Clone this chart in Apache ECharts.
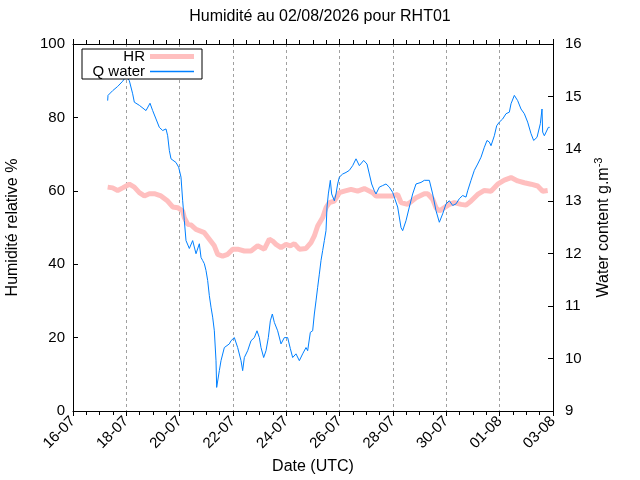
<!DOCTYPE html>
<html><head><meta charset="utf-8">
<script src="https://cdn.jsdelivr.net/npm/echarts@6/dist/echarts.min.js"></script>
<style>html,body{margin:0;padding:0;background:#fff}#c{width:640px;height:480px}</style>
</head><body><div id="c"></div>
<script>
const startUTC = Date.UTC(2026, 6, 16); // 16-07-2026 00:00 UTC
const axisSpanHours = 432;              // 16-07 -> 03-08
const tickStepHours = 48;
const hrHours = [31.2,35.7,40.2,44.7,50.7,55.2,59.7,64.2,68.7,73.2,79.2,85.2,89.7,94.2,98.7,100.2,103.2,106.2,110.7,118.2,122.7,127.2,130.2,134.7,139.2,143.7,148.2,154.2,160.2,166.2,172.2,176.7,179.7,182.7,187.2,191.7,195.6,199.2,203.7,209.7,214.2,217.2,220.2,224.7,227.7,230.7,235.2,239.7,244.2,250.2,256.2,262.2,269.7,272.7,280.2,287.7,292.2,295.2,301.2,308.7,316.2,319.2,323.7,326.7,329.7,334.2,338.7,343.2,349.2,353.7,358.2,364.2,370.2,376.2,382.2,388.2,394.2,400.2,406.2,412.2,418.2,422.7,427.2];
const hrValues = [61.0,60.8,60.1,60.8,61.8,61.0,59.5,58.6,59.2,59.2,58.6,57.2,55.6,55.4,54.5,52.7,50.9,50.7,49.5,48.6,46.8,45.0,42.7,42.2,42.7,44.1,44.1,43.6,43.6,45.0,44.1,46.8,46.3,45.4,44.5,45.4,45.0,45.6,44.1,44.3,45.9,47.7,50.4,52.7,55.4,56.8,57.2,59.5,59.9,60.4,59.9,60.6,59.5,58.6,58.6,58.6,59.0,56.8,56.3,58.1,59.2,59.2,57.7,55.4,54.5,55.4,56.3,56.8,56.3,56.1,57.2,59.0,60.1,59.9,61.8,62.9,63.6,62.7,62.2,61.8,61.3,59.9,60.1];
const qHours = [31.2,31.5,35.7,40.2,44.7,47.7,50.7,53.7,55.2,59.7,65.7,67.2,69.3,71.7,74.7,77.7,80.7,83.7,85.2,86.7,88.2,92.7,95.1,97.2,98.7,100.2,101.7,104.7,107.7,110.7,113.7,115.2,116.7,118.2,119.7,121.2,122.7,124.2,125.7,127.2,128.7,129.3,131.7,133.2,136.2,140.7,142.2,145.2,148.2,151.2,152.7,154.2,157.2,160.2,163.2,165.6,167.7,169.2,171.6,173.7,175.8,177.6,179.4,181.2,184.2,187.2,190.2,193.2,195.6,197.7,200.7,203.7,206.7,209.7,211.2,213.6,215.7,217.2,218.7,220.2,221.7,223.2,224.7,226.2,227.7,228.6,229.8,231.6,232.8,235.2,236.7,238.2,239.7,242.7,245.7,248.7,251.7,254.7,257.7,261.6,264.6,266.7,268.8,271.2,272.7,275.7,278.7,281.7,284.7,287.7,289.2,292.2,295.2,296.7,299.7,302.7,305.7,308.7,313.2,316.2,320.7,323.7,326.7,329.7,332.7,335.7,338.7,341.7,344.7,347.7,350.7,353.7,355.2,358.2,361.2,364.2,367.2,370.2,372.6,374.7,376.2,379.2,381.3,383.7,386.7,389.7,392.7,394.2,397.2,400.2,403.2,406.2,409.2,412.2,414.6,417.6,420.6,422.1,422.7,424.2,425.7,427.8,429.0];
const qValues = [14.92,15.02,15.11,15.19,15.29,15.38,15.30,15.05,14.89,14.83,14.73,14.70,14.87,14.73,14.57,14.41,14.35,14.38,14.25,13.97,13.81,13.74,13.65,13.46,13.01,12.63,12.25,12.10,12.25,12.00,12.19,11.93,11.87,11.81,11.68,11.49,11.20,10.98,10.79,10.53,9.96,9.45,9.77,9.96,10.21,10.28,10.34,10.40,10.21,9.96,9.77,10.02,10.15,10.34,10.40,10.53,10.40,10.21,10.02,10.15,10.40,10.72,10.85,10.69,10.53,10.28,10.40,10.40,10.19,10.02,10.09,9.96,10.09,10.21,10.15,10.50,10.53,10.85,11.10,11.36,11.61,11.87,12.06,12.25,12.44,12.89,13.14,13.40,13.14,13.01,13.14,13.33,13.46,13.52,13.55,13.59,13.68,13.81,13.68,13.78,13.71,13.52,13.33,13.20,13.14,13.27,13.30,13.33,13.27,13.17,13.14,12.89,12.50,12.44,12.63,12.89,13.14,13.33,13.36,13.40,13.40,13.14,12.82,12.60,12.76,12.95,13.01,12.92,12.95,13.05,13.11,13.08,13.20,13.40,13.59,13.71,13.84,14.03,14.16,14.13,14.06,14.25,14.44,14.51,14.57,14.67,14.70,14.86,15.02,14.92,14.76,14.67,14.51,14.29,14.16,14.22,14.48,14.76,14.32,14.25,14.22,14.41,14.41];

const HR_COLOR = '#ffbfbf';
const Q_COLOR = '#0080ff';
const FONT = '"Liberation Sans", Arial, sans-serif';
function fmtDate(h) {
  const d = new Date(startUTC + h * 3600e3);
  const dd = String(d.getUTCDate()).padStart(2, '0');
  const mm = String(d.getUTCMonth() + 1).padStart(2, '0');
  return dd + '-' + mm;
}
const chart = echarts.init(document.getElementById('c'), null, {renderer: 'canvas'});
const xCommon = () => ({
  type: 'value', min: 0, max: axisSpanHours, interval: tickStepHours,
  axisLine: {show: true, onZero: false, lineStyle: {color: '#000', width: 1}},
  axisTick: {show: true, inside: false, length: 5, lineStyle: {color: '#000'}},
  minorTick: {show: true, splitNumber: 4, length: 4, lineStyle: {color: '#000'}},
});
chart.setOption({
  animation: false,
  backgroundColor: '#fff',
  title: {
    text: 'Humidité au 02/08/2026 pour RHT01',
    left: 'center', top: 9, padding: [0, 17, 0, 0],
    textStyle: {fontFamily: FONT, fontSize: 16, fontWeight: 'normal', color: '#000'}
  },
  legend: {
    orient: 'vertical', left: 82, top: 49, align: 'right',
    padding: [0, 8, 0, 7], itemGap: 0, itemWidth: 44, itemHeight: 15,
    borderColor: '#000', borderWidth: 1, backgroundColor: '#fff',
    formatter: n => '{a|' + n + '}',
    textStyle: {fontFamily: FONT, fontSize: 15, color: '#000',
      rich: {a: {width: 56, align: 'right', fontFamily: FONT, fontSize: 15, lineHeight: 15}}},
    data: [
      {name: 'HR', icon: 'path://M0,0H44V5H0Z', itemStyle: {color: HR_COLOR, borderWidth: 0}},
      {name: 'Q water', icon: 'path://M0,0H44V1.3H0Z', itemStyle: {color: Q_COLOR, borderWidth: 0}}
    ]
  },
  grid: {left: 73, right: 87, top: 44, bottom: 69, containLabel: false, outerBoundsMode: 'none'},
  xAxis: [
    Object.assign(xCommon(), {
      position: 'bottom',
      name: 'Date (UTC)', nameLocation: 'middle', nameGap: 48,
      nameTextStyle: {fontFamily: FONT, fontSize: 16, color: '#000'},
      axisLabel: {rotate: 45, margin: 8, fontFamily: FONT, fontSize: 15, color: '#000', formatter: fmtDate},
      splitLine: {show: true, lineStyle: {color: '#a0a0a0', type: [3, 3], width: 1}}
    }),
    Object.assign(xCommon(), {
      position: 'top', axisLabel: {show: false}, splitLine: {show: false}
    })
  ],
  yAxis: [
    {
      type: 'value', min: 0, max: 100, interval: 20, position: 'left',
      name: 'Humidité relative %', nameLocation: 'middle', nameGap: 52,
      nameTextStyle: {fontFamily: FONT, fontSize: 16, color: '#000'},
      axisLine: {show: true, onZero: false, lineStyle: {color: '#000'}},
      axisTick: {show: true, inside: true, length: 5, lineStyle: {color: '#000'}},
      minorTick: {show: false},
      axisLabel: {fontFamily: FONT, fontSize: 15, color: '#000', margin: 8},
      splitLine: {show: false}, minorSplitLine: {show: false}
    },
    {
      type: 'value', min: 9, max: 16, interval: 1, position: 'right',
      name: 'Water content g.m{sup|-3}', nameLocation: 'middle', nameGap: 40, nameRotate: 90,
      nameTextStyle: {fontFamily: FONT, fontSize: 16, color: '#000',
        rich: {sup: {fontFamily: FONT, fontSize: 11, color: '#000', padding: [0, 0, 10, 0]}}},
      axisLine: {show: true, onZero: false, lineStyle: {color: '#000'}},
      axisTick: {show: true, inside: true, length: 5, lineStyle: {color: '#000'}},
      minorTick: {show: false},
      axisLabel: {fontFamily: FONT, fontSize: 15, color: '#000', margin: 12},
      splitLine: {show: false}, minorSplitLine: {show: false}
    }
  ],
  series: [
    {
      name: 'HR', type: 'line', xAxisIndex: 0, yAxisIndex: 0,
      data: hrHours.map((h, i) => [h, hrValues[i]]),
      symbol: 'none', smooth: false,
      lineStyle: {color: HR_COLOR, width: 5}, itemStyle: {color: HR_COLOR}
    },
    {
      name: 'Q water', type: 'line', xAxisIndex: 0, yAxisIndex: 1,
      data: qHours.map((h, i) => [h, qValues[i]]),
      symbol: 'none', smooth: false,
      lineStyle: {color: Q_COLOR, width: 1}, itemStyle: {color: Q_COLOR}
    }
  ]
});
</script></body></html>
